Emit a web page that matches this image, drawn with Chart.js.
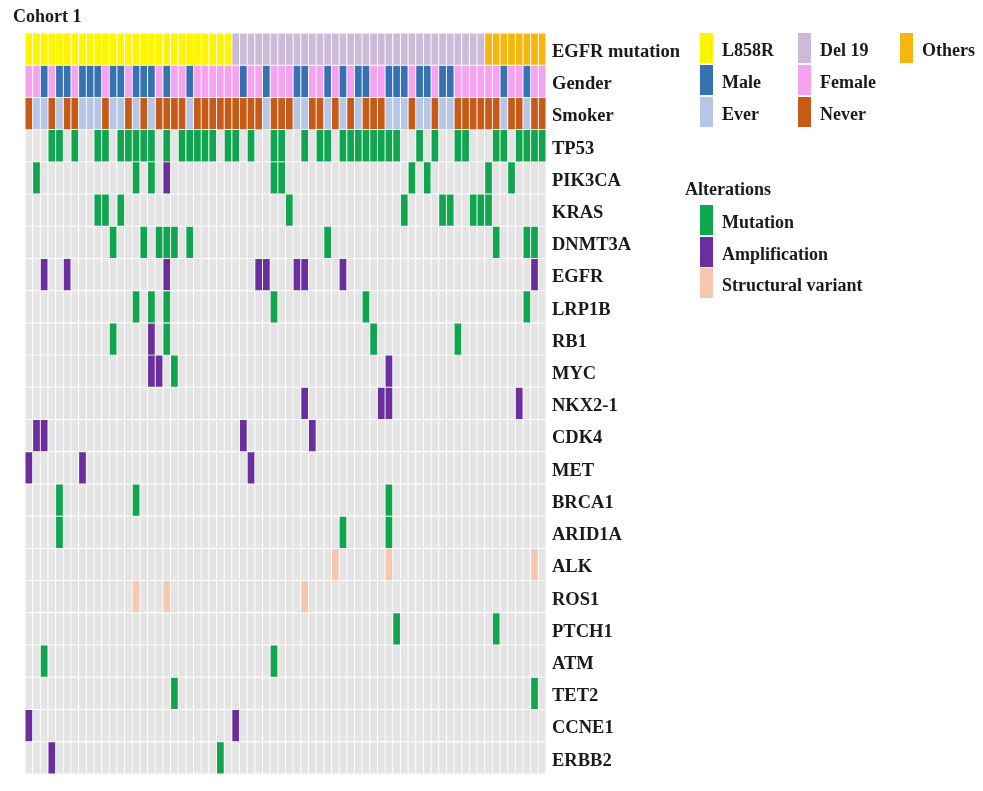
<!DOCTYPE html>
<html><head><meta charset="utf-8">
<script src="https://cdn.jsdelivr.net/npm/chart.js@4.4.0/dist/chart.umd.min.js"></script>
<style>
html,body{margin:0;padding:0;background:#fff;}
#wrap{position:relative;width:983px;height:791px;overflow:hidden;background:#fff;}
#c{position:absolute;left:0;top:0;}
.t{position:absolute;font-family:'Liberation Serif','Times New Roman',serif;font-weight:bold;font-size:18px;color:#1a1a1a;white-space:nowrap;line-height:18px;}
.sw{position:absolute;width:13px;height:30px;}
</style></head><body>
<div id="wrap"><canvas id="c" width="983" height="791"></canvas><div id="leg"></div></div>
<script>
// ---------- data ----------
const chartTitle = 'Cohort 1';
const clinicalRows = ['EGFR mutation', 'Gender', 'Smoker'];
const genes = ['TP53','PIK3CA','KRAS','DNMT3A','EGFR','LRP1B','RB1','MYC','NKX2-1','CDK4','MET','BRCA1','ARID1A','ALK','ROS1','PTCH1','ATM','TET2','CCNE1','ERBB2'];
const sampleCount = 68;
// EGFR mutation type, as runs along the samples (left to right)
const egfrRuns = [['L858R', 27], ['Del 19', 33], ['Others', 8]];
// sample indices that are Male (rest Female)
const maleSamples = [2,4,5,7,8,9,11,12,14,15,16,18,21,28,31,35,36,39,41,43,44,47,48,49,51,52,54,55,62,65];
// sample indices that are Ever smokers (rest Never)
const everSmokers = [1,2,4,7,8,9,11,12,14,16,21,31,35,36,39,41,43,47,48,49,51,52,54,55,62,65];
// alterations: [gene, sample indices]
const mutationHits = [
  ['TP53', [3,4,6,9,10,12,13,14,15,16,18,20,21,22,23,24,26,27,29,32,33,36,38,39,41,42,43,44,45,46,47,48,51,53,56,57,61,62,64,65,66,67]],
  ['PIK3CA', [1,14,16,32,33,50,52,60,63]],
  ['KRAS', [9,10,12,34,49,54,55,58,59,60]],
  ['DNMT3A', [11,15,17,18,19,21,39,61,65,66]],
  ['LRP1B', [14,16,18,32,44,65]],
  ['RB1', [11,18,45,56]],
  ['MYC', [19]],
  ['BRCA1', [4,14,47]],
  ['ARID1A', [4,41,47]],
  ['PTCH1', [48,61]],
  ['ATM', [2,32]],
  ['TET2', [19,66]],
  ['ERBB2', [25]]
];
const amplificationHits = [
  ['PIK3CA', [18]],
  ['EGFR', [2,5,18,30,31,35,36,41,66]],
  ['RB1', [16]],
  ['MYC', [16,17,47]],
  ['NKX2-1', [36,46,47,64]],
  ['CDK4', [1,2,28,37]],
  ['MET', [0,7,29]],
  ['CCNE1', [0,27]],
  ['ERBB2', [3]]
];
const structuralHits = [
  ['ALK', [40,47,66]],
  ['ROS1', [14,18,36]]
];
const colors = {
  'L858R':'#FFF500', 'Del 19':'#CDBAD8', 'Others':'#F5B60E',
  'Male':'#3672B2', 'Female':'#F5A3F0', 'Ever':'#B5C6E6', 'Never':'#C65A16',
  'Mutation':'#10A650', 'Amplification':'#6A2E9E', 'Structural variant':'#F7C8AF',
  'empty':'#E4E4E4'
};

// ---------- build datasets ----------
const rows = clinicalRows.concat(genes);
const cell = (row, i) => ({ y: row, x: [i, i + 1] });
const base = { borderColor:'#ffffff', borderWidth:0.8, borderSkipped:false, grouped:false, barPercentage:1, categoryPercentage:1 };
const datasets = [];

// background grey for gene rows
const bg = [];
genes.forEach(g => { for (let i = 0; i < sampleCount; i++) bg.push(cell(g, i)); });
datasets.push(Object.assign({ label:'none', data:bg, backgroundColor:colors.empty, order:5 }, base));

// EGFR mutation
let pos = 0;
egfrRuns.forEach(([name, n]) => {
  const d = [];
  for (let k = 0; k < n; k++) d.push(cell('EGFR mutation', pos + k));
  pos += n;
  datasets.push(Object.assign({ label:name, data:d, backgroundColor:colors[name], order:1 }, base));
});
// Gender / Smoker
const male = [], female = [], ever = [], never = [];
for (let i = 0; i < sampleCount; i++) {
  (maleSamples.includes(i) ? male : female).push(cell('Gender', i));
  (everSmokers.includes(i) ? ever : never).push(cell('Smoker', i));
}
datasets.push(Object.assign({ label:'Male', data:male, backgroundColor:colors.Male, order:1 }, base));
datasets.push(Object.assign({ label:'Female', data:female, backgroundColor:colors.Female, order:1 }, base));
datasets.push(Object.assign({ label:'Ever', data:ever, backgroundColor:colors.Ever, order:1 }, base));
datasets.push(Object.assign({ label:'Never', data:never, backgroundColor:colors.Never, order:1 }, base));
// Alterations
[['Mutation', mutationHits], ['Amplification', amplificationHits], ['Structural variant', structuralHits]].forEach(([name, hits]) => {
  const d = [];
  hits.forEach(([g, idx]) => idx.forEach(i => d.push(cell(g, i))));
  datasets.push(Object.assign({ label:name, data:d, backgroundColor:colors[name], order:0 }, base));
});

new Chart(document.getElementById('c'), {
  type:'bar',
  data:{ labels: rows, datasets },
  options:{
    responsive:false, animation:false, events:[],
    indexAxis:'y',
    layout:{ padding:{ left:25, top:33, right:0, bottom:16 } },
    plugins:{ legend:{ display:false }, tooltip:{ enabled:false } },
    scales:{
      x:{ type:'linear', min:0, max:sampleCount, display:false },
      y:{ type:'category', position:'right', offset:true,
          grid:{ display:false, drawTicks:false }, border:{ display:false },
          ticks:{ padding:6, labelOffset:3, color:'#1a1a1a', autoSkip:false,
                  font:{ family:'Liberation Serif', weight:'bold', size:18.5 } },
          afterFit(s){ s.width = 983 - 546; } }
    }
  }
});

// ---------- legend (HTML) ----------
const leg = document.getElementById('leg');
function addText(txt, x, cy) {
  const d = document.createElement('div'); d.className = 't'; d.textContent = txt;
  d.style.left = x + 'px'; d.style.top = (cy - 9) + 'px'; leg.appendChild(d);
}
function addSwatch(col, x, y) {
  const d = document.createElement('div'); d.className = 'sw'; d.style.background = col;
  d.style.left = x + 'px'; d.style.top = y + 'px'; leg.appendChild(d);
}
addText(chartTitle, 13, 16);
const clinLegend = [
  ['L858R', 700, 33], ['Male', 700, 65], ['Ever', 700, 97],
  ['Del 19', 798, 33], ['Female', 798, 65], ['Never', 798, 97],
  ['Others', 900, 33]
];
clinLegend.forEach(([n, x, y]) => { addSwatch(colors[n], x, y); addText(n, x + 22, y + 17); });
addText('Alterations', 685, 189);
['Mutation', 'Amplification', 'Structural variant'].forEach((n, k) => {
  const y = 205 + k * 31.5; addSwatch(colors[n], 700, y); addText(n, 722, y + 17);
});
</script>
</body></html>
